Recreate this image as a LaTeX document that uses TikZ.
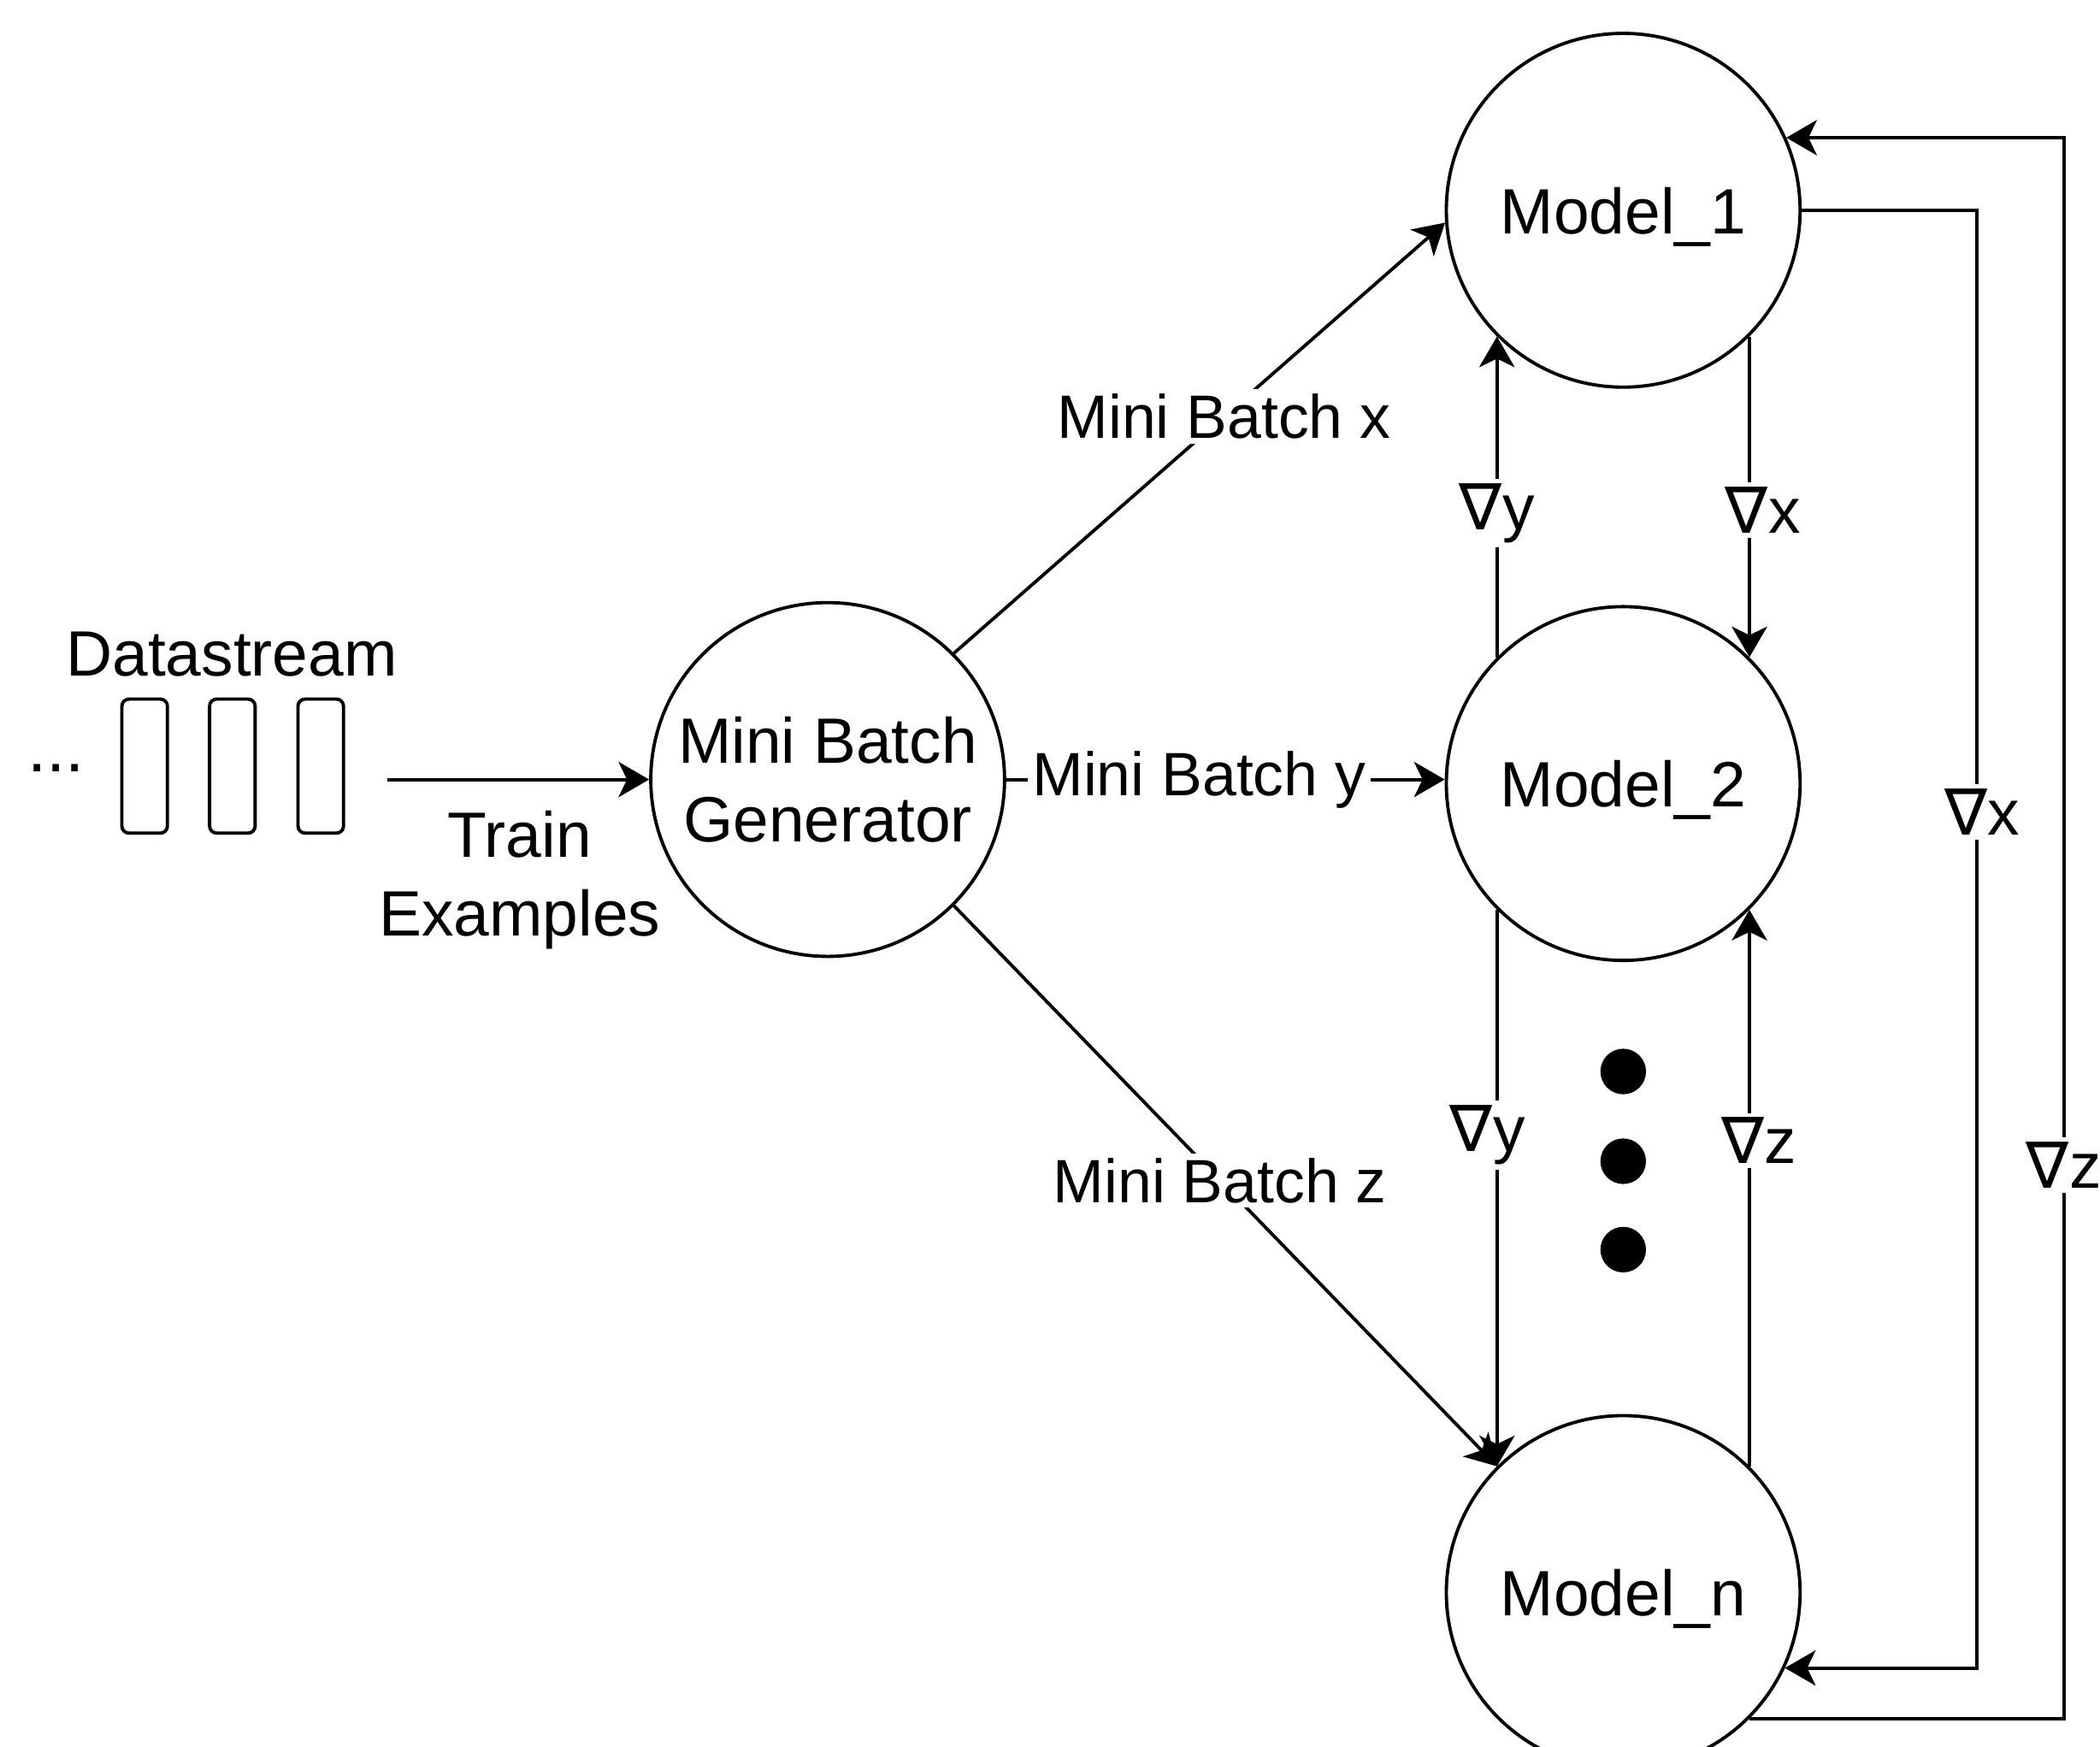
\documentclass[tikz,border=0pt]{standalone}
\usepackage{fontspec}
\setmainfont{Liberation Sans}
\newfontfamily\nablafont{DejaVu Sans}
\usetikzlibrary{arrows.meta,calc}
\newcommand{\nab}{{\nablafont ∇}}
\begin{document}
\begin{tikzpicture}[x=0.01cm,y=-0.01cm,
  every node/.style={font=\fontsize{13.6}{16.8}\selectfont},
  model/.style={circle,draw,line width=0.7pt,minimum size=2.64cm,inner sep=0pt,align=center},
  conn/.style={line width=0.7pt,-{Stealth[length=6.5pt,width=7.5pt,inset=1.8pt]}},
  lbl/.style={fill=white,inner sep=1pt},
  elbl/.style={fill=white,inner sep=1pt,font=\fontsize{13}{15.6}\selectfont},
  item/.style={draw,line width=0.7pt,rounded corners=1.5pt,minimum width=0.34cm,minimum height=1.0cm,inner sep=0pt},
  bigdot/.style={circle,fill=black,minimum size=0.34cm,inner sep=0pt}
]
\useasboundingbox (0,0) rectangle (1568,1304);
\clip (0,0) rectangle (1568,1304);

% data stream
\node[anchor=base] (ds) at (173,505) {Datastream};
\node[anchor=base,font=\fontsize{14.5}{16.8}\selectfont] (dots) at (42,576) {...};
\node[item] (r1) at (108,572) {};
\node[item] (r2) at (173.5,572) {};
\node[item] (r3) at (239.5,572) {};
\coordinate (ts) at (289,582);
\node[align=center] (te) at (388,657) {Train\\Examples};

% main nodes
\node[model] (gen) at (618,582) {Mini Batch\\Generator};
\node[model,text depth=0pt] (m1) at (1212,157) {Model\_1};
\node[model,text depth=0pt] (m2) at (1212,585) {Model\_2};
\node[model,text depth=0pt] (mn) at (1212,1189) {Model\_n};

\node[bigdot] (d1) at (1212,800) {};
\node[bigdot] (d2) at (1212,867) {};
\node[bigdot] (d3) at (1212,933) {};

% connectors
\draw[conn] (ts) -- (gen.west);
\draw[conn] (gen.45) -- node[elbl,pos=0.55] {Mini Batch x} (m1.184);
\draw[conn] (gen.east) -- node[elbl,pos=0.44] {Mini Batch y} (gen.east -| m2.west);
\draw[conn] (gen.-45) -- node[elbl,pos=0.49] {Mini Batch z} (mn.135);

\draw[conn] (m2.135) -- node[lbl,pos=0.45] {\nab y} (m1.-135);
\draw[conn] (m1.-45) -- node[lbl,pos=0.54,xshift=0.1cm] {\nab x} (m2.45);
\draw[conn] (m2.-135) -- node[lbl,pos=0.405,xshift=-0.07cm] {\nab y} (mn.135);
\draw[conn] (mn.45) -- node[lbl,pos=0.585,xshift=0.07cm] {\nab z} (m2.-45);

\coordinate (xr) at (1476,0);
\coordinate (zr) at (1541,0);
\draw[conn] (m1.east) -| (xr |- mn.-25) -- (mn.-25);
\node[lbl] (lx) at (1480,606) {\nab x};
\draw[conn] (mn.-45) -| (zr |- m1.24) -- (m1.24);
\node[lbl] (lz) at (1541,870) {\nab z};
\end{tikzpicture}
\end{document}
